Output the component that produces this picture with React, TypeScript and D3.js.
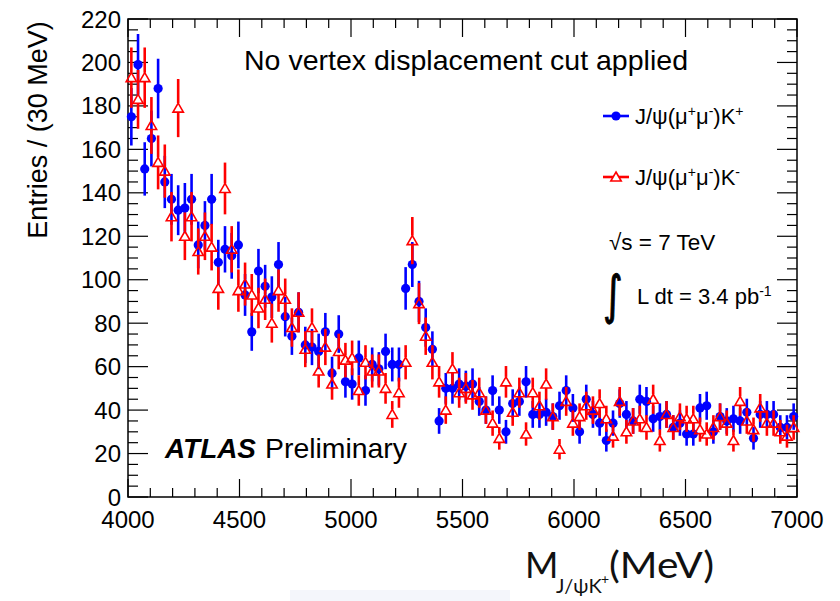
import React from "react";
import * as d3 from "d3";

// Invariant-mass histogram, 30 MeV bins from 4000 to 7000 MeV
const binLow = 4000;
const binWidth = 30;

// Entries per bin, J/psi(mu+mu-) K+
const kPlus = [
  175, 199, 151, 165, 188, 145, 137, 132, 133, 137,
  116, 125, 137, 108, 114, 111, 116, 93, 76, 104,
  97, 92, 107, 83, 74, 85, 70, 69, 67, 76,
  57, 75, 53, 52, 64, 49, 61, 59, 67, 61,
  61, 96, 107, 90, 78, 68, 35, 50, 50, 52,
  51, 52, 44, 40, 49, 40, 30, 43, 44, 53,
  38, 38, 39, 37, 42, 49, 41, 30, 45, 38,
  34, 26, 34, 43, 38, 35, 45, 44, 36, 37,
  38, 32, 34, 29, 29, 41, 42, 30, 37, 35,
  36, 35, 39, 27, 38, 38, 38, 32, 32, 37,
];

// Entries per bin, J/psi(mu+mu-) K-
const kMinus = [
  193, 183, 193, 171, 154, 150, 129, 179, 120, 129,
  113, 120, 115, 96, 142, 114, 95, 98, 93, 87,
  91, 80, 95, 91, 78, 85, 68, 78, 58, 69,
  52, 67, 63, 64, 49, 62, 58, 58, 50, 38,
  48, 62, 118, 89, 74, 62, 53, 40, 59, 48,
  50, 47, 48, 40, 34, 27, 53, 39, 48, 29,
  48, 42, 52, 37, 22, 44, 34, 37, 42, 40,
  43, 36, 28, 44, 30, 35, 36, 32, 45, 26,
  38, 32, 37, 36, 36, 31, 29, 32, 37, 34,
  26, 44, 35, 31, 41, 34, 34, 30, 28, 32,
];

const xTicks = [4000, 4500, 5000, 5500, 6000, 6500, 7000];
const yTicks = [0, 20, 40, 60, 80, 100, 120, 140, 160, 180, 200, 220];

const W = 840;
const H = 601;
const frame = { left: 128, right: 797, top: 19, bottom: 497 };

const BLUE = "#0000ff";
const RED = "#ff0000";
const FONT = "'Liberation Sans', Arial, Helvetica, sans-serif";

const x = d3.scaleLinear().domain([4000, 7000]).range([frame.left, frame.right]);
const y = d3.scaleLinear().domain([0, 220]).range([frame.bottom, frame.top]);

const center = (i: number) => binLow + binWidth * (i + 0.5);

const triPath = (cx: number, cy: number, s = 1) =>
  `M${cx},${cy - 5 * s} L${cx + 5.2 * s},${cy + 4 * s} L${cx - 5.2 * s},${cy + 4 * s} Z`;

function Axes() {
  const xMinor = d3.range(4000, 7001, 100);
  const yMinor = d3.range(0, 221, 5);
  const ticks: React.ReactNode[] = [];
  xMinor.forEach((v) => {
    const major = v % 500 === 0;
    const len = major ? 18 : 9;
    const px = x(v);
    ticks.push(
      <line key={`xb${v}`} x1={px} x2={px} y1={frame.bottom} y2={frame.bottom - len} stroke="#000" strokeWidth={1.2} />,
      <line key={`xt${v}`} x1={px} x2={px} y1={frame.top} y2={frame.top + len} stroke="#000" strokeWidth={1.2} />
    );
  });
  yMinor.forEach((v) => {
    const major = v % 20 === 0;
    const len = major ? 20 : 10;
    const py = y(v);
    ticks.push(
      <line key={`yl${v}`} x1={frame.left} x2={frame.left + len} y1={py} y2={py} stroke="#000" strokeWidth={1.2} />,
      <line key={`yr${v}`} x1={frame.right} x2={frame.right - len} y1={py} y2={py} stroke="#000" strokeWidth={1.2} />
    );
  });
  return (
    <g>
      {ticks}
      <rect
        x={frame.left}
        y={frame.top}
        width={frame.right - frame.left}
        height={frame.bottom - frame.top}
        fill="none"
        stroke="#000"
        strokeWidth={1.5}
      />
      {xTicks.map((v) => (
        <text key={`xl${v}`} x={x(v)} y={528} textAnchor="middle" fontSize={24} fontFamily={FONT}>
          {v}
        </text>
      ))}
      {yTicks.map((v) => (
        <text key={`ylab${v}`} x={121} y={y(v) + 8.5} textAnchor="end" fontSize={24} fontFamily={FONT}>
          {v}
        </text>
      ))}
      <text
        transform={`translate(47,130) rotate(-90)`}
        textAnchor="middle"
        fontSize={27}
        fontFamily={FONT}
      >
        Entries / (30 MeV)
      </text>
    </g>
  );
}

function BlueSeries() {
  return (
    <g>
      {kPlus.map((v, i) => {
        const cx = x(center(i));
        const e = Math.sqrt(v);
        return (
          <g key={i}>
            <line x1={cx} x2={cx} y1={y(v - e)} y2={y(v + e)} stroke={BLUE} strokeWidth={2.6} />
            <circle cx={cx} cy={y(v)} r={4.6} fill={BLUE} />
          </g>
        );
      })}
    </g>
  );
}

function RedSeries() {
  return (
    <g>
      {kMinus.map((v, i) => {
        const cx = x(center(i));
        const cy = y(v);
        const e = Math.sqrt(v);
        return (
          <g key={i}>
            <line x1={cx} x2={cx} y1={cy - 5} y2={y(v + e)} stroke={RED} strokeWidth={2.6} />
            <line x1={cx} x2={cx} y1={cy + 4} y2={y(v - e)} stroke={RED} strokeWidth={2.6} />
            <path d={triPath(cx, cy)} fill="none" stroke={RED} strokeWidth={1.6} />
          </g>
        );
      })}
    </g>
  );
}

function Legend() {
  const sup = { baselineShift: "super", fontSize: 14 } as React.CSSProperties;
  return (
    <g fontFamily={FONT}>
      <line x1={603} x2={629} y1={116} y2={116} stroke={BLUE} strokeWidth={2.6} />
      <circle cx={616} cy={116} r={4.6} fill={BLUE} />
      <text x={635} y={124} fontSize={22}>
        J/ψ(μ<tspan style={sup}>+</tspan>μ<tspan style={sup}>-</tspan>)K<tspan style={sup}>+</tspan>
      </text>

      <line x1={603} x2={629} y1={177} y2={177} stroke={RED} strokeWidth={2.6} />
      <path d={triPath(616, 177)} fill="#fff" stroke={RED} strokeWidth={1.6} />
      <text x={635} y={185} fontSize={22}>
        J/ψ(μ<tspan style={sup}>+</tspan>μ<tspan style={sup}>-</tspan>)K<tspan style={sup}>-</tspan>
      </text>

      <text x={609} y={250} fontSize={22.5}>
        √s = 7 TeV
      </text>
      <text
        transform="translate(603,313) scale(1.25,1.75)"
        fontSize={30}
        fontFamily="'DejaVu Sans', sans-serif"
        stroke="#000"
        strokeWidth={0.6}
      >
        ∫
      </text>
      <text x={637} y={304} fontSize={22}>
        L dt = 3.4 pb<tspan style={sup}>-1</tspan>
      </text>
    </g>
  );
}

function Labels() {
  return (
    <g>
      <text x={244} y={70} fontSize={28} fontFamily={FONT} textLength={444} lengthAdjust="spacingAndGlyphs">
        No vertex displacement cut applied
      </text>
      <text
        x={165}
        y={458}
        fontSize={28}
        fontFamily={FONT}
        fontWeight="bold"
        fontStyle="italic"
        textLength={91}
        lengthAdjust="spacingAndGlyphs"
      >
        ATLAS
      </text>
      <text x={265} y={458} fontSize={28} fontFamily={FONT} textLength={142} lengthAdjust="spacingAndGlyphs">
        Preliminary
      </text>
      <g fontFamily="Lato, 'Open Sans', sans-serif" fill="#111">
        <text x={525} y={578} fontSize={36}>M</text>
        <text x={556} y={593} fontSize={20}>J/ψK</text>
        <text x={601} y={584} fontSize={14}>+</text>
        <text x={609} y={578} fontSize={37} textLength={105} lengthAdjust="spacingAndGlyphs">(MeV)</text>
      </g>
    </g>
  );
}

export default function App() {
  return (
    <svg
      width={W}
      height={H}
      viewBox={`0 0 ${W} ${H}`}
      style={{ position: "absolute", left: 0, top: 0, background: "#fff" }}
    >
      <rect x={0} y={0} width={W} height={H} fill="#fff" />
      <rect x={290} y={590} width={220} height={11} fill="#f4f6fb" />
      <Axes />
      <BlueSeries />
      <RedSeries />
      <Legend />
      <Labels />
    </svg>
  );
}
